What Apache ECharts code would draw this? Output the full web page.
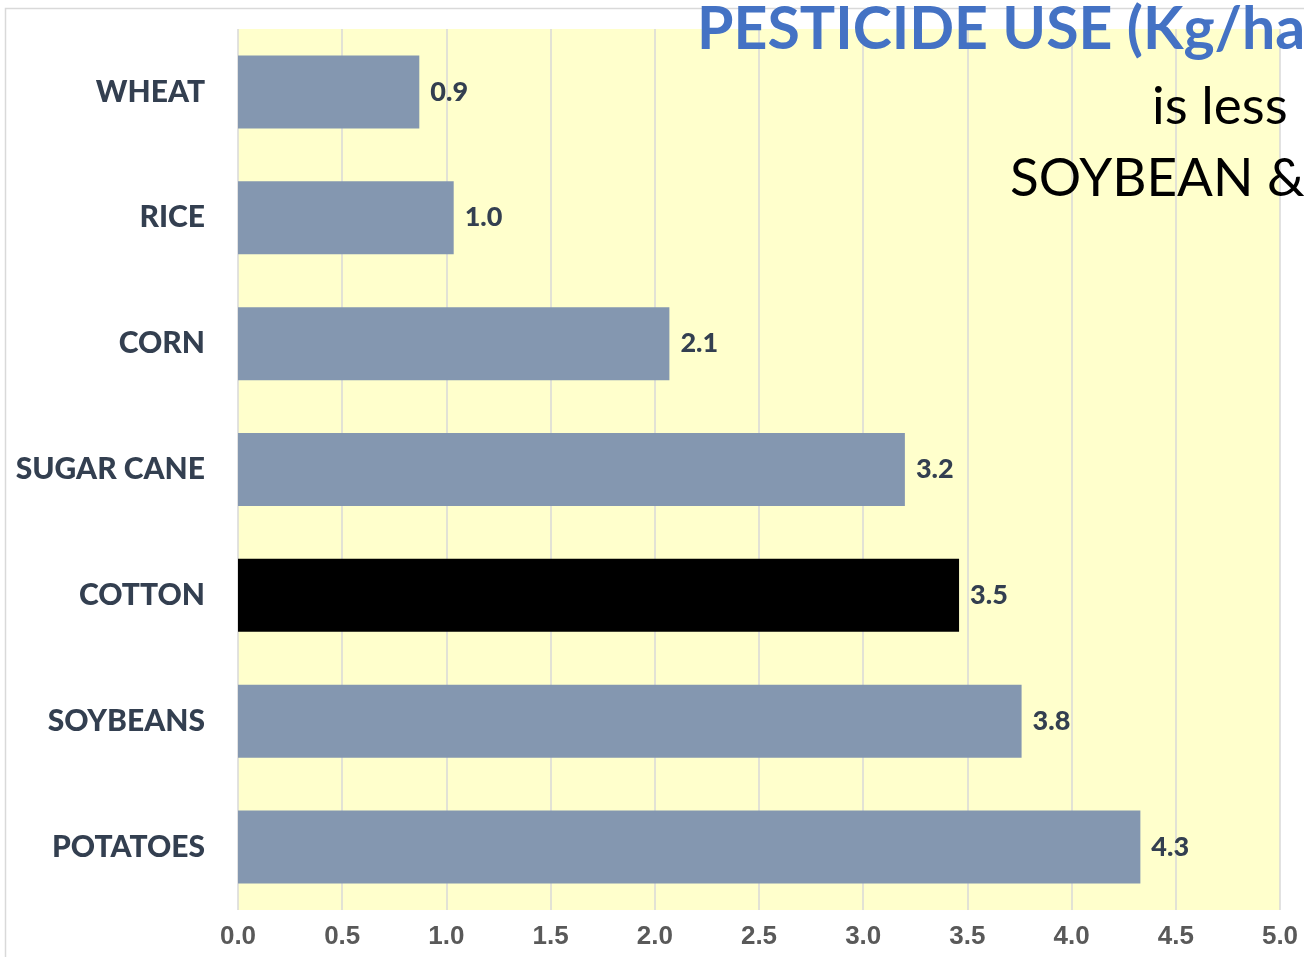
<!DOCTYPE html>
<html>
<head>
<meta charset="utf-8">
<script src="https://cdn.jsdelivr.net/npm/echarts@6/dist/echarts.min.js"></script>
<style>
html,body{margin:0;padding:0;background:#fff;}
#chart{width:1304px;height:957px;}
</style>
</head>
<body>
<div id="chart"></div>
<script>
const categories = ['WHEAT', 'RICE', 'CORN', 'SUGAR CANE', 'COTTON', 'SOYBEANS', 'POTATOES'];
const values = [0.87, 1.035, 2.07, 3.2, 3.46, 3.76, 4.33];
const highlight = 'COTTON';
const xTicks = { min: 0, max: 5, interval: 0.5 };
const titleText = 'PESTICIDE USE (Kg/ha)';
const subLine1 = 'is less';
const subLine2 = 'SOYBEAN &';

const chart = echarts.init(document.getElementById('chart'), null, {renderer: 'canvas'});
const CAL = 'Lato, "Open Sans", sans-serif';

chart.setOption({
  animation: false,
  backgroundColor: '#ffffff',
  grid: {
    left: 238, right: 24, top: 29, bottom: 47,
    show: true, backgroundColor: '#FFFFCC', borderWidth: 0
  },
  xAxis: {
    type: 'value',
    min: xTicks.min, max: xTicks.max, interval: xTicks.interval,
    axisLine: {show: false},
    axisTick: {show: false},
    splitLine: {show: true, lineStyle: {color: '#D9D9D9', width: 1.5}},
    axisLabel: {
      formatter: v => v.toFixed(1),
      color: '#595959', fontFamily: '"Liberation Sans", Arial, sans-serif',
      fontWeight: 'bold', fontSize: 26, margin: 14
    }
  },
  yAxis: {
    type: 'category',
    data: categories,
    inverse: true,
    axisLine: {show: false},
    axisTick: {show: false},
    splitLine: {show: false},
    axisLabel: {
      color: '#333F50', fontFamily: CAL, fontWeight: 900, fontSize: 30, margin: 33,
      padding: [4, 0, 0, 0]
    }
  },
  series: [{
    type: 'bar',
    data: values.map((v, i) => ({
      value: v,
      itemStyle: {color: categories[i] === highlight ? '#000000' : '#8497B0'}
    })),
    barCategoryGap: '42%',
    label: {
      show: true, position: 'right', distance: 11,
      formatter: p => p.value.toFixed(1),
      color: '#333F50', fontFamily: CAL, fontWeight: 900, fontSize: 27,
      padding: [4, 0, 0, 0]
    }
  }],
  graphic: [
    {type: 'rect', z: -10, silent: true,
     shape: {x: 5.5, y: 8.5, width: 1400, height: 1000},
     style: {fill: 'none', stroke: '#D9D9D9', lineWidth: 1.5}},
    {type: 'text', z: 100, left: 697, top: 0,
     style: {text: titleText, fill: '#4472C4', font: 'bold 59px ' + CAL}},
    {type: 'text', z: 100, left: 1152, top: 80,
     style: {text: subLine1, fill: '#000000', font: 'normal 53px ' + CAL}},
    {type: 'text', z: 100, left: 1010, top: 152,
     style: {text: subLine2, fill: '#000000', font: 'normal 53px ' + CAL}}
  ]
});
</script>
</body>
</html>
